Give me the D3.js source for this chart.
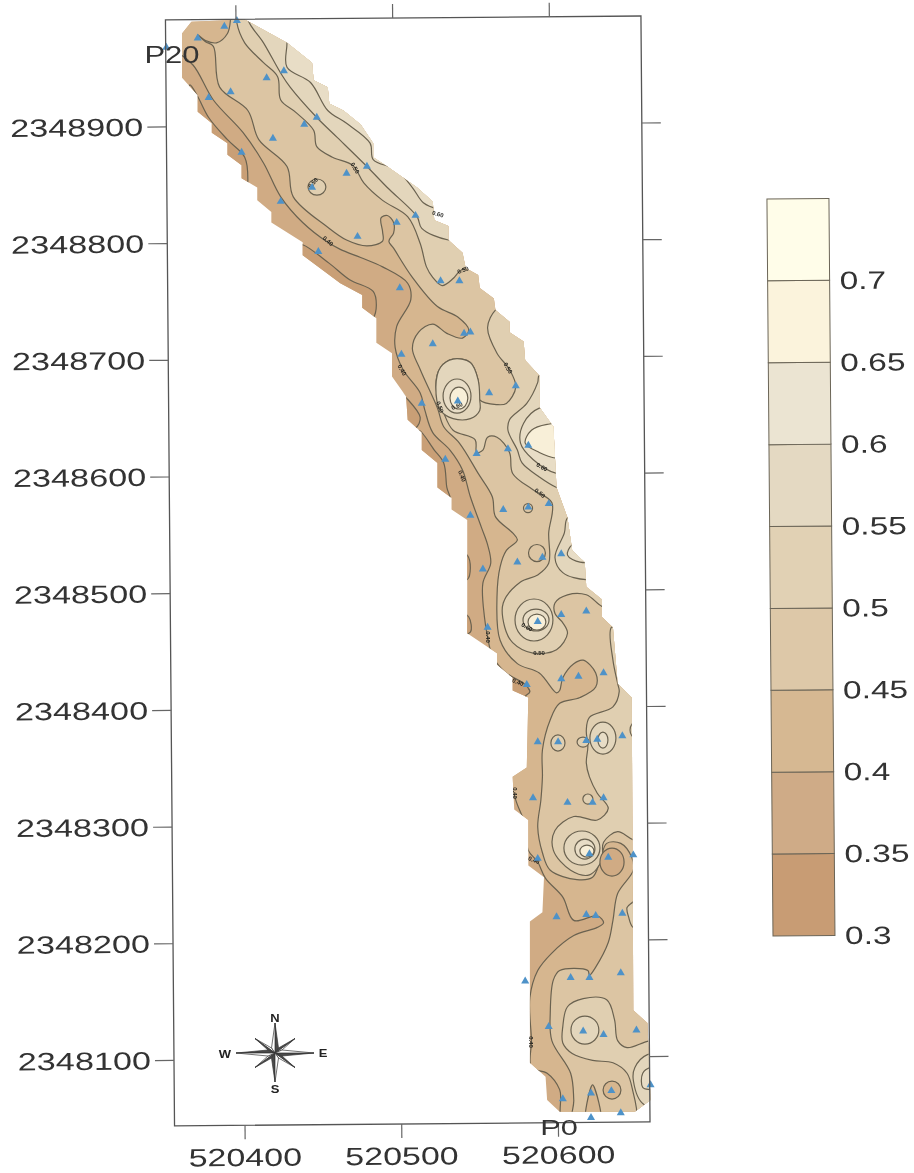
<!DOCTYPE html>
<html><head><meta charset="utf-8">
<script src="https://cdn.jsdelivr.net/npm/d3@7"></script>
<style>html,body{margin:0;background:#fff}svg{display:block;filter:blur(0.45px)}text{font-family:"Liberation Sans",Arial,sans-serif;fill:#333}</style>
</head><body>
<svg id="c" width="914" height="1173"></svg>
<script>
const EAST0 = 520000, NORTH0 = 2348000;
const eastTicks = [520400, 520500, 520600];
const northTicks = [2348100, 2348200, 2348300, 2348400, 2348500, 2348600, 2348700, 2348800, 2348900];
const legendLevels = [0.3, 0.35, 0.4, 0.45, 0.5, 0.55, 0.6, 0.65, 0.7];
const legendTop = 0.75;
const bandColors = { 30: "#c89c74", 35: "#cfab87", 40: "#d6b892", 45: "#ddc8a8", 50: "#e1d1b4", 55: "#e4d9c2", 60: "#ebe4d2", 65: "#fbf3dc", 70: "#fffde9" };
const mapColors = { 30: "#c99f76", 35: "#d0ab84", 40: "#d6b68f", 45: "#dcc5a3", 50: "#e0cfb1", 55: "#e3d6bc", 60: "#e8ddc6", 65: "#f8efd8" };

const stations = [[390,984],[398,989],[373,974],[353,966],[428,946],[417,940],[394,928],[380,923],[449,906],[441,900],[421,888],[401,876],[481,864],[468,858],[446,846],[426,834],[512,822],[500,816],[475,804],[450,791],[528,766],[540,766],[502,760],[543,721],[547,722],[523,712],[503,703],[576,676],[559,670],[539,663],[516,661],[584,625],[571,622],[551,618],[531,613],[568,570],[584,572],[597,575],[547,565],[605,532],[593,529],[577,525],[555,519],[605,480],[621,483],[590,474],[558,469],[632,430],[616,427],[605,425],[583,420],[644,376],[628,373],[621,372],[603,371],[590,371],[587,323],[609,319],[625,319],[632,323],[623,275],[635,272],[651,274],[590,271],[602,221],[621,223],[627,222],[644,224],[582,166],[611,169],[623,169],[643,173],[597,127],[619,123],[632,120],[653,124],[624,70],[637,72],[662,77],[606,65],[624,49],[643,53]];

const stripOutline = [[363,978],[369,988],[403,990],[430,970],[446,953],[447,938],[456,932],[457,918],[466,912],[477,900],[485,884],[485,872],[494,864],[513,846],[523,834],[524,818],[533,813],[533,801],[542,790],[544,777],[552,771],[553,760],[562,751],[563,741],[572,731],[572,722],[581,714],[582,698],[591,685],[591,658],[600,641],[602,589],[609,563],[612,535],[620,525],[621,504],[631,493],[631,478],[638,469],[641,421],[650,409],[651,141],[660,130],[662,64],[652,54],[604,54],[596,64],[595,84],[585,96],[585,217],[593,225],[594,255],[584,265],[584,304],[575,313],[574,341],[583,349],[584,409],[574,415],[574,426],[564,437],[564,447],[545,464],[545,561],[535,570],[535,580],[526,589],[526,610],[516,621],[516,636],[507,647],[506,667],[497,684],[497,704],[487,713],[487,734],[478,743],[478,754],[464,764],[440,788],[440,799],[420,816],[420,825],[411,835],[411,846],[401,854],[401,865],[392,874],[392,884],[382,893],[382,901],[373,911],[373,925],[363,940]];

const low30a = [[368,934],[373,924],[380,906],[392,887],[403,872],[405,852],[403,835],[391,861],[368,904]];
const low30b = [[440,797],[457,781],[470,767],[485,757],[487,745],[485,734],[480,728],[457,754],[435,780],[435,797]];
const low30c = [[502,671],[506,666],[515,649],[512,640],[502,640]];
const low30d = [[514,638],[524,621],[530,610],[532,589],[534,578],[524,578],[512,621]];
const low30e = [[539,535],[545,531],[547,520],[545,510],[539,510]];
const low30f = [[540,482],[546,478],[547,465],[540,463]];
const low30g = [[571,428],[582,421],[585,411],[571,411]];

const level40 = [[352,1007],[352,964],[359,962],[370,951],[383,921],[402,893],[415,867],[426,838],[440,816],[456,799],[464,793],[477,786],[491,778],[507,764],[509,750],[500,727],[499,709],[504,690],[515,670],[518,655],[523,636],[534,621],[542,604],[547,581],[554,555],[558,540],[560,524],[555,507],[556,478],[558,461],[561,445],[569,431],[582,420],[585,414],[580,407],[579,355],[573,341],[576,321],[582,300],[584,278],[590,268],[595,254],[606,238],[613,218],[628,222],[632,216],[628,212],[613,205],[599,190],[590,175],[585,152],[586,115],[586,92],[596,87],[604,73],[607,43],[687,43],[687,1007]];

const level45 = [[394,1007],[394,991],[392,978],[385,970],[378,972],[373,977],[378,971],[383,967],[387,932],[405,912],[412,887],[430,864],[434,838],[456,812],[468,801],[481,796],[491,800],[491,808],[490,820],[494,822],[498,816],[498,807],[495,800],[498,794],[510,769],[526,744],[539,735],[546,724],[542,717],[532,721],[523,729],[514,722],[510,708],[515,690],[526,657],[530,641],[540,627],[552,601],[561,581],[563,564],[574,550],[577,544],[570,535],[566,521],[564,495],[566,458],[577,438],[591,430],[602,413],[604,415],[606,426],[613,438],[619,441],[627,430],[627,418],[617,409],[604,404],[598,390],[593,364],[593,341],[592,321],[590,298],[593,276],[598,261],[615,253],[625,255],[630,270],[634,284],[643,284],[650,272],[651,261],[641,241],[638,218],[635,199],[627,178],[623,171],[622,175],[604,175],[600,167],[598,139],[599,115],[611,87],[613,64],[613,43],[687,43],[687,1007]];

const level50north = [[398,1007],[398,987],[403,970],[415,953],[424,941],[426,921],[436,910],[447,895],[449,881],[459,872],[472,865],[479,850],[491,835],[507,821],[515,798],[519,778],[523,769],[529,762],[536,768],[540,774],[547,779],[560,775],[569,745],[563,741],[558,726],[564,704],[572,690],[576,675],[570,661],[564,660],[553,664],[552,681],[547,696],[536,699],[528,692],[525,675],[530,653],[536,638],[550,630],[551,619],[555,621],[558,632],[564,632],[572,619],[574,601],[587,587],[599,576],[597,550],[597,524],[590,514],[579,508],[568,490],[569,469],[574,456],[587,447],[602,450],[609,464],[606,473],[601,481],[601,490],[609,497],[621,497],[631,487],[641,482],[644,471],[637,469],[638,441],[641,421],[642,414],[638,401],[623,392],[621,381],[622,367],[621,353],[623,341],[628,327],[635,314],[628,304],[613,307],[601,295],[600,278],[611,261],[623,257],[631,270],[632,285],[641,294],[651,287],[668,283],[687,283],[687,1007]];
const level50south = [[687,115],[662,115],[647,109],[641,115],[639,133],[634,150],[619,151],[609,144],[606,127],[606,113],[612,104],[625,98],[638,96],[647,87],[651,70],[653,57],[654,43],[687,43]];
const level50east = [[668,240],[655,240],[651,234],[647,229],[648,221],[651,212],[668,210]];
const low40finger = [[621,43],[625,77],[630,43]];

const level55north = [[405,1007],[405,990],[415,970],[426,944],[432,932],[449,906],[462,889],[481,864],[494,846],[513,821],[516,811],[533,801],[553,801],[553,1007]];
const level55bend = [[611,685],[591,685],[590,679],[583,661],[572,647],[571,638],[577,621],[580,610],[591,598],[602,589],[617,583]];
const level55mid = [[623,570],[609,563],[607,550],[601,529],[606,516],[621,510],[633,514]];
const level55peak = [[536,699],[547,696],[552,681],[553,664],[553,655],[547,648],[536,648],[528,655],[525,675],[528,692]];
const level55south = [[681,103],[660,103],[652,92],[651,81],[658,60],[681,60]];

const level60north = [[430,1007],[430,970],[430,949],[445,936],[456,912],[468,901],[483,884],[485,870],[500,861],[510,846],[517,833],[526,828],[547,828],[547,1007]];
const level60bend = [[614,657],[591,657],[581,644],[579,627],[587,613],[602,601],[614,601]];
const level60mid = [[623,544],[612,540],[609,531],[617,525],[627,527]];
const level60south = [[681,92],[662,92],[657,87],[657,75],[662,73],[681,73]];
const level65bend = [[614,643],[596,643],[586,638],[582,627],[591,619],[602,614],[614,614]];

// east, north, half-width (m), half-height (m), band painted inside
const closedContours = [
 [449.1,846.4,5.7,6.9,50],[538.5,667.3,8.9,14.6,60],[539.7,665.6,5.7,9.4,65],
 [587.6,475.4,12.1,18,55],[588.9,475.4,8.3,9.4,60],[589.5,473.6,5.7,6.9,65],
 [631.6,374.2,8.3,13.7,55],[631.6,372.5,3.2,6.9,60],[652.7,381.1,3.8,6.9,55],
 [602.9,370,4.5,6.9,50],[618.9,370.8,3.8,4.3,50],[622,322,3.2,4.3,50],
 [618.2,280,11.5,14.6,55],[620.1,279.1,6.4,8.6,60],[621.4,277.4,4.5,5.1,65],
 [620.1,124,8.9,12,55],[589.5,532.8,5.4,7.3,45],[583.8,571.3,2.9,3.9,45],
 [637.4,268,7.7,12,35],[637.4,72.6,5.7,7.7,40]];

const contourLabels = [[473.4,862.7,"0.50",60],[526.3,823.3,"0.60",15],[456.2,800.2,"0.40",40],[446.6,849.9,"0.50",-50],[542.3,775.3,"0.50",-20],[571,691.3,"0.50",60],[503.4,689.6,"0.40",60],[527.6,657.9,"0.50",70],[538.5,658.8,"0.60",-20],[592.7,606.5,"0.60",30],[591.4,584.2,"0.50",40],[541.7,598.8,"0.40",70],[558.2,460.8,"0.40",90],[590.8,447.1,"0.50",0],[583.1,469.4,"0.60",30],[577.4,422.2,"0.40",20],[575.5,327.1,"0.40",90],[587.6,269.7,"0.40",20],[585.7,113.7,"0.40",90]];

const filled = [
 [low30a,30],[low30b,30],[low30c,30],[low30d,30],[low30e,30],[low30f,30],[low30g,30],
 [level40,40],[level45,45],[level50north,50],[level50south,50],[level50east,50],
 [level55north,55],[level55bend,55],[level55mid,55],[level55peak,55],[level55south,55],
 [level60north,60],[level60bend,60],[level60mid,60],[level60south,60],[level65bend,65],[low40finger,40]];

const svg = d3.select("#c");
const x = d3.scaleLinear([520400, 520500], [240, 396.7]);
const y = d3.scaleLinear([2348900, 2348100], [124.5, 1058.1]);
const px = d => x(EAST0 + d[0]), py = d => y(NORTH0 + d[1]);

svg.append("clipPath").attr("id", "strip").append("path")
  .attr("d", d3.line().x(px).y(py)(stripOutline) + "Z");

const plot = svg.append("g");
plot.append("path").attr("d", d3.line().x(px).y(py)(stripOutline) + "Z").attr("fill", mapColors[35]);
const surf = plot.append("g").attr("clip-path", "url(#strip)");
const contourPath = d3.line().x(px).y(py).curve(d3.curveCatmullRomClosed.alpha(0.5));
const LINE = "#6a6250";
surf.selectAll("path.r").data(filled).join("path").attr("class", "r")
  .attr("d", d => contourPath(d[0]))
  .attr("fill", d => mapColors[d[1]])
  .attr("stroke", LINE).attr("stroke-width", 1.2);
surf.selectAll("ellipse").data(closedContours).join("ellipse")
  .attr("cx", d => x(EAST0 + d[0])).attr("cy", d => y(NORTH0 + d[1]))
  .attr("rx", d => x(EAST0 + d[0] + d[2]) - x(EAST0 + d[0]))
  .attr("ry", d => y(NORTH0 + d[1] - d[3]) - y(NORTH0 + d[1]))
  .attr("fill", d => mapColors[d[4]])
  .attr("stroke", LINE).attr("stroke-width", 1.2);

plot.selectAll("text.cl").data(contourLabels).join("text").attr("class", "cl")
  .attr("transform", d => `translate(${x(EAST0 + d[0])},${y(NORTH0 + d[1])}) rotate(${d[3]})`)
  .attr("text-anchor", "middle").attr("dy", "0.35em")
  .style("font-size", "6px").style("font-weight", "bold").style("fill", "#1f1f1c")
  .text(d => d[2]);

plot.selectAll("path.st").data(stations).join("path").attr("class", "st")
  .attr("d", d3.symbol(d3.symbolTriangle, 28))
  .attr("transform", d => `translate(${px(d)},${py(d)})`)
  .attr("fill", "#4e92c8");

// Scanned page: frame, axes and legend sit 0.47 degrees off square
const page = svg.append("g").attr("transform", "rotate(-0.47 400 573)");
const L = 170, R = 645.5, T = 18, B = 1124, TICK = 19;
page.append("rect").attr("x", L).attr("y", T).attr("width", R - L).attr("height", B - T)
  .attr("fill", "none").attr("stroke", "#555").attr("stroke-width", 1.3);

function style(a) { a.select(".domain").remove(); a.selectAll("line").attr("stroke", "#666").attr("stroke-width", 1.2); }
page.append("g").attr("transform", `translate(${L},0)`)
  .call(d3.axisLeft(y).tickValues(northTicks).tickFormat(d3.format("d")).tickSize(TICK))
  .call(style)
  .call(a => a.selectAll("text").attr("x", null).attr("dy", "0.35em").attr("text-anchor", "end")
     .attr("transform", "translate(-23,0) scale(1.37,1)").style("font-size", "25px").attr("fill", null));
page.append("g").attr("transform", `translate(${R},0)`)
  .call(d3.axisRight(y).tickValues(northTicks).tickFormat("").tickSize(TICK)).call(style);
page.append("g").attr("transform", `translate(0,${B})`)
  .call(d3.axisBottom(x).tickValues(eastTicks).tickFormat(d3.format("d")).tickSize(14))
  .call(style)
  .call(a => a.selectAll("text").attr("y", null).attr("dy", "0.35em").attr("text-anchor", "middle")
     .attr("transform", "translate(0,32) scale(1.36,1)").style("font-size", "25px").attr("fill", null));
page.append("g").attr("transform", `translate(0,${T})`)
  .call(d3.axisTop(x).tickValues(eastTicks).tickFormat("").tickSize(14)).call(style);

// Legend
const ly = d3.scaleLinear([0.3, legendTop], [939, 202]);
const LX = 770, LW = 62;
const legendStops = legendLevels.map((v, i) => [v, i + 1 < legendLevels.length ? legendLevels[i + 1] : legendTop]);
const lg = page.append("g");
lg.selectAll("rect").data(legendStops).join("rect")
  .attr("x", LX).attr("width", LW).attr("y", d => ly(d[1])).attr("height", d => ly(d[0]) - ly(d[1]))
  .attr("fill", d => bandColors[Math.round(d[0] * 100)]).attr("stroke", "#6b6557").attr("stroke-width", 1);
lg.selectAll("text").data(legendLevels).join("text")
  .attr("transform", d => `translate(842,${ly(d)}) scale(1.34,1)`)
  .attr("dy", "0.35em").style("font-size", "25px").text(d => d);

// Compass rose
const rose = svg.append("g").attr("transform", "translate(275,1053)");
const tips = [[0,-30],[20,-14.5],[39,0],[20,14.5],[0,29],[-20,14.5],[-39,0],[-20,-14.5]];
const inner = [[3.5,-5],[7,-3],[7,3],[3.5,5],[-3.5,5],[-7,3],[-7,-3],[-3.5,-5]];
tips.forEach((t, i) => {
  const a = inner[i], b = inner[(i + 7) % 8];
  rose.append("path").attr("d", `M0,0L${t}L${a}Z`).attr("fill", i % 2 ? "#fff" : "#4a4a4a").attr("stroke", "#333").attr("stroke-width", 0.7);
  rose.append("path").attr("d", `M0,0L${t}L${b}Z`).attr("fill", i % 2 ? "#4a4a4a" : "#fff").attr("stroke", "#333").attr("stroke-width", 0.7);
});
[["N",275,1018],["S",275,1089],["W",225,1054],["E",323,1053]].forEach(d =>
  svg.append("text").attr("transform", `translate(${d[1]},${d[2]}) scale(1.3,1)`).attr("text-anchor", "middle").attr("dy", "0.35em")
     .style("font-size", "10px").style("font-weight", "bold").style("fill", "#222").text(d[0]));

// Profile end labels
[["P20",172,55,24,1.29],["P0",559,1127,22,1.4]].forEach(d =>
  svg.append("text").attr("transform", `translate(${d[1]},${d[2]}) scale(${d[4]},1)`).attr("text-anchor", "middle").attr("dy", "0.35em")
     .style("font-size", d[3] + "px").text(d[0]));
</script>
</body></html>
